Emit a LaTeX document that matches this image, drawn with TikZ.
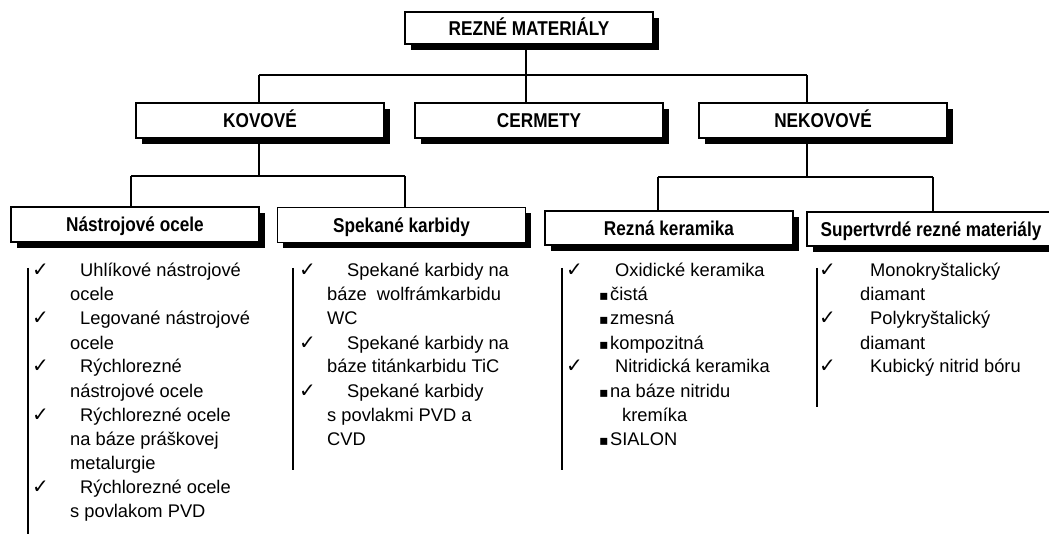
\documentclass[tikz,border=0pt]{standalone}
\usepackage{fontspec}
\setmainfont{Liberation Sans}
\newfontfamily\hdrfont[FakeStretch=0.86]{Liberation Sans}
\newfontfamily\symfont{DejaVu Sans}
\usetikzlibrary{shadows}
\tikzset{
  hdr/.style={draw=black, line width=1.3pt, fill=white, minimum width=248pt,
    minimum height=35pt, inner sep=0pt, text height=14.5pt, text depth=0pt,
    font=\hdrfont\bfseries\fontsize{20}{22}\selectfont,
    drop shadow={shadow xshift=5.5pt, shadow yshift=-6pt, opacity=1, fill=black}},
  conn/.style={line width=1.2pt},
  rail/.style={line width=1.5pt},
  body/.style={anchor=base west, inner sep=0pt, font=\fontsize{18.3}{24}\selectfont},
  chk/.style={anchor=base west, inner sep=0pt, font=\symfont\fontsize{20}{22}\selectfont},
}
\newcommand\sqb{{\symfont\fontsize{14}{18}\selectfont ▪}}
\begin{document}
\begin{tikzpicture}[x=1pt, y=-1pt]
\clip (0,0) rectangle (1049,534);
\fill[white] (0,0) rectangle (1049,534);
% header boxes
\node[hdr, minimum height=32pt] (root) at (529,28) {REZNÉ MATERIÁLY};
\node[hdr] (kov) at (260,120.5) {KOVOVÉ};
\node[hdr] (cer) at (539,120.5) {CERMETY};
\node[hdr] (nek) at (823,120.5) {NEKOVOVÉ};
\node[hdr] (nas) at (135,224.5) {Nástrojové ocele};
\node[hdr] (spe) at (401.5,225) {Spekané karbidy};
\node[hdr, minimum height=34pt] (rez) at (669,228) {Rezná keramika};
\node[hdr, minimum height=34pt] (sup) at (931,229) {Supertvrdé rezné materiály};
% connectors
\coordinate (tL) at (259,75);
\coordinate (tM) at (526,75);
\coordinate (tR) at (807,75);
\draw[conn] (tL) -- (tR);
\draw[conn] (tM |- root.south) -- (tM |- cer.north);
\draw[conn] (tL) -- (tL |- kov.north);
\draw[conn] (tR) -- (tR |- nek.north);
\coordinate (kJ) at (259,176);
\coordinate (kL) at (131,176);
\coordinate (kR) at (405,176);
\draw[conn] (kJ |- kov.south) -- (kJ);
\draw[conn] (kL) -- (kR);
\draw[conn] (kL) -- (kL |- nas.north);
\draw[conn] (kR) -- (kR |- spe.north);
\coordinate (nJ) at (807,177);
\coordinate (nL) at (658,177);
\coordinate (nR) at (933,177);
\draw[conn] (nJ |- nek.south) -- (nJ);
\draw[conn] (nL) -- (nR);
\draw[conn] (nL) -- (nL |- rez.north);
\draw[conn] (nR) -- (nR |- sup.north);
% rails
\draw[rail] (28,268) -- (28,534);
\draw[rail] (293,268) -- (293,470);
\draw[rail] (562,268) -- (562,470);
\draw[rail] (817,268) -- (817,407);
% list 1
\node[chk] (ca1) at (32,277) {✓};
\node[body] (a1) at (80,277) {Uhlíkové nástrojové};
\node[body] (a2) at (70,301) {ocele};
\node[chk] (ca2) at (32,325) {✓};
\node[body] (a3) at (80,325) {Legované nástrojové};
\node[body] (a4) at (70,349) {ocele};
\node[chk] (ca3) at (32,373) {✓};
\node[body] (a5) at (80,373) {Rýchlorezné};
\node[body] (a6) at (70,397) {nástrojové ocele};
\node[chk] (ca4) at (32,421) {✓};
\node[body] (a7) at (80,421) {Rýchlorezné ocele};
\node[body] (a8) at (70,445) {na báze práškovej};
\node[body] (a9) at (70,469) {metalurgie};
\node[chk] (ca5) at (32,493) {✓};
\node[body] (a10) at (80,493) {Rýchlorezné ocele};
\node[body] (a11) at (70,517) {s povlakom PVD};
% list 2
\node[chk] (cb1) at (299,277) {✓};
\node[body] (b1) at (347,277) {Spekané karbidy na};
\node[body] (b2) at (327,301) {báze\hspace{10pt}wolfrámkarbidu};
\node[body] (b3) at (327,325) {WC};
\node[chk] (cb2) at (299,349) {✓};
\node[body] (b4) at (347,349) {Spekané karbidy na};
\node[body] (b5) at (327,373) {báze titánkarbidu TiC};
\node[chk] (cb3) at (299,397) {✓};
\node[body] (b6) at (347,397) {Spekané karbidy};
\node[body] (b7) at (327,421) {s povlakmi PVD a};
\node[body] (b8) at (327,445) {CVD};
% list 3
\node[chk] (cc1) at (566,277) {✓};
\node[body] (c1) at (615,277) {Oxidické keramika};
\node[body] (c2) at (599,301) {\sqb\hspace{1.5pt}čistá};
\node[body] (c3) at (599,325) {\sqb\hspace{1.5pt}zmesná};
\node[body] (c4) at (599,349) {\sqb\hspace{1.5pt}kompozitná};
\node[chk] (cc2) at (566,373) {✓};
\node[body] (c5) at (615,373) {Nitridická keramika};
\node[body] (c6) at (599,397) {\sqb\hspace{1.5pt}na báze nitridu};
\node[body] (c7) at (622,421) {kremíka};
\node[body] (c8) at (599,445) {\sqb\hspace{1.5pt}SIALON};
% list 4
\node[chk] (cd1) at (819,277) {✓};
\node[body] (d1) at (870,277) {Monokryštalický};
\node[body] (d2) at (860,301) {diamant};
\node[chk] (cd2) at (819,325) {✓};
\node[body] (d3) at (870,325) {Polykryštalický};
\node[body] (d4) at (860,349) {diamant};
\node[chk] (cd3) at (819,373) {✓};
\node[body] (d5) at (870,373) {Kubický nitrid bóru};
\end{tikzpicture}
\end{document}
